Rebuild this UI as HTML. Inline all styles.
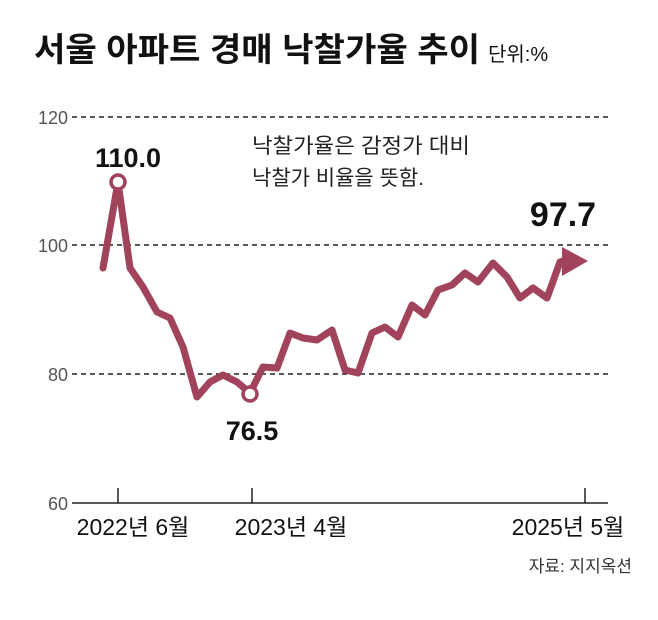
<!DOCTYPE html>
<html><head><meta charset="utf-8"><style>
body{margin:0;background:#fff;}
svg text{font-family:"Liberation Sans","Noto Sans CJK KR",sans-serif;}
</style></head><body>
<svg width="658" height="615" viewBox="0 0 658 615" xmlns="http://www.w3.org/2000/svg">
<text x="34" y="61" font-size="33" font-weight="bold" fill="#111" textLength="446" lengthAdjust="spacingAndGlyphs">서울 아파트 경매 낙찰가율 추이</text>
<text x="488" y="61" font-size="20" fill="#111">단위:%</text>
<g stroke="#222" stroke-width="1.5" stroke-dasharray="5,4">
<line x1="72" y1="117" x2="608" y2="117"/>
<line x1="72" y1="245" x2="608" y2="245"/>
<line x1="72" y1="374" x2="608" y2="374"/>
</g>
<line x1="72" y1="503" x2="608" y2="503" stroke="#222" stroke-width="1.5"/>
<g stroke="#222" stroke-width="1.5"><line x1="118" y1="488" x2="118" y2="503"/><line x1="252" y1="488" x2="252" y2="503"/><line x1="585" y1="488" x2="585" y2="503"/></g>
<g font-size="18" fill="#555" text-anchor="end">
<text x="68" y="124">120</text><text x="68" y="252">100</text><text x="68" y="381">80</text><text x="68" y="510">60</text>
</g>
<g font-size="23" fill="#111" text-anchor="middle">
<text x="133" y="535">2022년 6월</text><text x="291" y="535">2023년 4월</text><text x="568" y="535">2025년 5월</text>
</g>
<text x="632" y="572" font-size="17" fill="#333" text-anchor="end">자료: 지지옥션</text>
<text x="252" y="153" font-size="21" fill="#222" textLength="218" lengthAdjust="spacingAndGlyphs">낙찰가율은 감정가 대비</text>
<text x="252" y="185" font-size="21" fill="#222">낙찰가 비율을 뜻함.</text>
<polyline fill="none" stroke="#a1435a" stroke-width="7" stroke-linejoin="round" stroke-linecap="round" points="103,268 118,182 130,268 143,287 157,312 170,318 183,347 197,397 210,382 223,375 237,382 250,393 263,367 277,368 290,333 303,338 317,340 332,330 345,370 358,373 372,333 385,327 398,337 412,305 425,315 438,290 452,285 465,273 478,282 493,263 507,277 520,298 533,288 547,298 560,262 566,260"/>
<polygon points="562,247 588,261 562,276" fill="#a1435a"/>
<circle cx="118" cy="182" r="7" fill="#fff" stroke="#a1435a" stroke-width="3.5"/>
<circle cx="250" cy="394" r="7" fill="#fff" stroke="#a1435a" stroke-width="3.5"/>
<text x="128" y="167" font-size="27" font-weight="bold" fill="#111" text-anchor="middle">110.0</text>
<text x="252" y="440" font-size="27" font-weight="bold" fill="#111" text-anchor="middle">76.5</text>
<text x="563" y="226" font-size="34" font-weight="bold" fill="#111" text-anchor="middle">97.7</text>
</svg>
</body></html>
